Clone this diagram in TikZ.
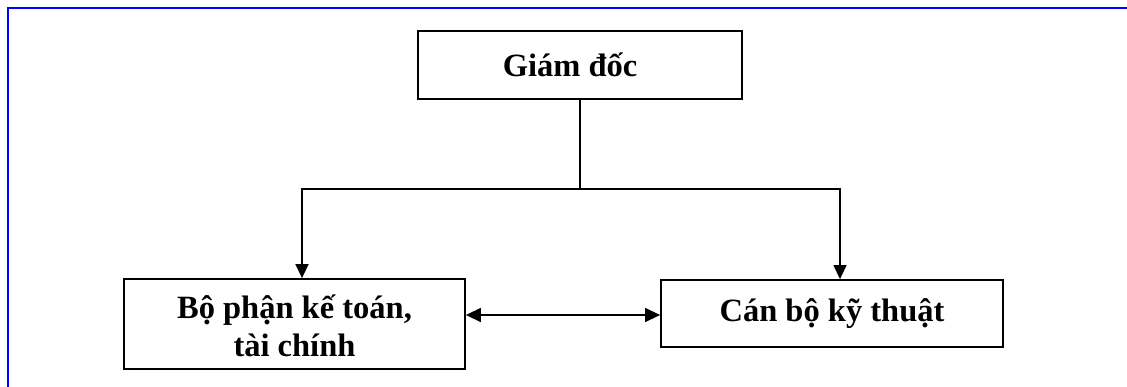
\documentclass[tikz,border=0pt]{standalone}
\usepackage{fontspec}
\setmainfont{Liberation Serif}
\usetikzlibrary{arrows.meta}
\begin{document}
\begin{tikzpicture}[x=1pt,y=-1pt,
  orgbox/.style={draw=black,line width=1.8pt,fill=white,align=center,
    inner sep=0pt,font=\fontsize{32.5}{38}\selectfont\bfseries},
  link/.style={draw=black,line width=1.5pt},
  tip/.style={-{Triangle[length=14pt,width=13pt]}},
  bitip/.style={{Triangle[length=15pt,width=14pt]}-{Triangle[length=15pt,width=14pt]}}]
  \useasboundingbox (0,0) rectangle (1127,387);
  % page frame (top and left edges)
  \draw[blue,line width=2pt] (8,387) -- (8,8) -- (1127,8);

  % boxes
  \node[orgbox,minimum width=324pt,minimum height=68pt] (gd) at (580,65) {Giám đốc\hspace*{20pt}};
  \node[orgbox,minimum width=341pt,minimum height=90pt] (kt) at (294.5,324)
    {\raisebox{-12pt}[0pt][0pt]{\begin{tabular}{@{}c@{}}Bộ phận kế toán,\\tài chính\end{tabular}}};
  \node[orgbox,minimum width=342pt,minimum height=67pt] (kth) at (832,313.5)
    {Cán bộ kỹ thuật};

  % branch point below the director
  \coordinate (j) at (gd.south |- 0,189);
  \draw[link] (gd.south) -- (j);
  \draw[link,tip] (j) -| ([xshift=7.5pt]kt.north);
  \draw[link,tip] (j) -| ([xshift=8pt]kth.north);

  % two-way link between departments
  \draw[link,bitip] ([yshift=-1.5pt]kt.east |- kth.west) -- ([yshift=-1.5pt]kth.west);
\end{tikzpicture}
\end{document}
